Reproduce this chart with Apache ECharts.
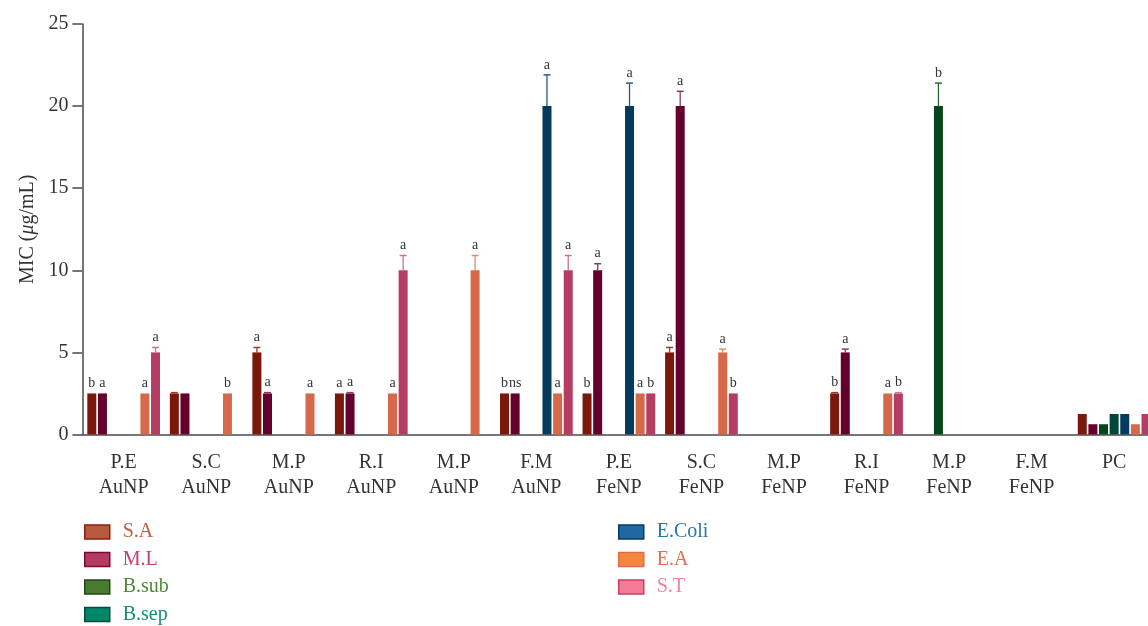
<!DOCTYPE html>
<html>
<head>
<meta charset="utf-8">
<script src="https://cdn.jsdelivr.net/npm/echarts@6/dist/echarts.min.js"></script>
<style>
  html, body { margin: 0; padding: 0; background: #ffffff; overflow: hidden; }
  /* the plot runs slightly past the right edge of the window */
  #chart { width: 1156px; height: 626px; }
</style>
</head>
<body>
<div id="chart"></div>
<script>
// Treatment groups along the x axis
const categories = [
  'P.E\nAuNP', 'S.C\nAuNP', 'M.P\nAuNP', 'R.I\nAuNP', 'M.P\nAuNP', 'F.M\nAuNP',
  'P.E\nFeNP', 'S.C\nFeNP', 'M.P\nFeNP', 'R.I\nFeNP', 'M.P\nFeNP', 'F.M\nFeNP', 'PC'
];
const yTicks = [0, 5, 10, 15, 20, 25];

// Strains (one bar series each)
const seriesNames = ['S.A', 'M.L', 'B.sub', 'B.sep', 'E.Coli', 'E.A', 'S.T'];

// MIC values (µg/mL) per strain, in category order
const saValues    = [2.5, 2.5, 5,   2.5, 0,  2.5, 2.5, 5,   0, 2.5, 0,  0, 1.25];
const mlValues    = [2.5, 2.5, 2.5, 2.5, 0,  2.5, 10,  20,  0, 5,   0,  0, 0.625];
const bsubValues  = [0,   0,   0,   0,   0,  0,   0,   0,   0, 0,   20, 0, 0.625];
const bsepValues  = [0,   0,   0,   0,   0,  0,   0,   0,   0, 0,   0,  0, 1.25];
const ecoliValues = [0,   0,   0,   0,   0,  20,  20,  0,   0, 0,   0,  0, 1.25];
const eaValues    = [2.5, 2.5, 2.5, 2.5, 10, 2.5, 2.5, 5,   0, 2.5, 0,  0, 0.625];
const stValues    = [5,   0,   0,   10,  0,  10,  2.5, 2.5, 0, 2.5, 0,  0, 1.25];

// Upper error (SD) per strain
const saErr    = [0,   0.05, 0.3,  0,    0,   0,   0,   0.3, 0, 0.05, 0,   0, 0];
const mlErr    = [0,   0,    0.05, 0.05, 0,   0,   0.4, 0.9, 0, 0.2,  0,   0, 0];
const bsubErr  = [0,   0,    0,    0,    0,   0,   0,   0,   0, 0,    1.4, 0, 0];
const bsepErr  = [0,   0,    0,    0,    0,   0,   0,   0,   0, 0,    0,   0, 0];
const ecoliErr = [0,   0,    0,    0,    0,   1.9, 1.4, 0,   0, 0,    0,   0, 0];
const eaErr    = [0,   0,    0,    0,    0.9, 0,   0,   0.2, 0, 0,    0,   0, 0];
const stErr    = [0.3, 0,    0,    0.9,  0,   0.9, 0,   0,   0, 0.05, 0,   0, 0];

// Significance letters per strain
const saSig    = ['b', '', 'a', 'a', '', 'b',  'b', 'a', '', 'b', '',  '', ''];
const mlSig    = ['a', '', 'a', 'a', '', 'ns', 'a', 'a', '', 'a', '',  '', ''];
const bsubSig  = ['',  '', '',  '',  '', '',   '',  '',  '', '',  'b', '', ''];
const bsepSig  = ['',  '', '',  '',  '', '',   '',  '',  '', '',  '',  '', ''];
const ecoliSig = ['',  '', '',  '',  '', 'a',  'a', '',  '', '',  '',  '', ''];
const eaSig    = ['a', 'b', 'a', 'a', 'a', 'a', 'a', 'a', '', 'a', '',  '', ''];
const stSig    = ['a', '', '',  'a', '', 'a',  'b', 'b', '', 'b', '',  '', ''];

const allValues = [saValues, mlValues, bsubValues, bsepValues, ecoliValues, eaValues, stValues];
const allErr = [saErr, mlErr, bsubErr, bsepErr, ecoliErr, eaErr, stErr];
const allSig = [saSig, mlSig, bsubSig, bsepSig, ecoliSig, eaSig, stSig];

// Bar fills, whisker tints, and legend swatch/text styles
const barColors = ['#7b180c', '#64002e', '#06461a', '#03473a', '#043b5c', '#d6694a', '#b53c63'];
const errColors = ['#9a3a2a', '#8a3a5a', '#2a6a3a', '#2a6a5a', '#2a5a7a', '#e08a70', '#d07090'];
const legendFill = ['#b85a3e', '#b43a60', '#4a7a30', '#00876a', '#1f68a0', '#f2883e', '#f27c98'];
const legendBorder = ['#8a1e10', '#7a0a30', '#1e4a1a', '#0a4a3a', '#0a3a60', '#e06a4a', '#c8405e'];
const legendText = ['#bf5e44', '#c2436c', '#4e8a34', '#1a8e74', '#2a74ac', '#e07050', '#f0849c'];

const FONT = '"Liberation Serif", "Times New Roman", serif';
const BAR_W = 9;
const BAR_GAP = 0.18;

const bars = seriesNames.map((name, i) => ({
  name: name,
  type: 'bar',
  data: allValues[i],
  barWidth: BAR_W,
  barGap: (BAR_GAP * 100) + '%',
  itemStyle: { color: barColors[i] },
  z: 2
}));

// Error whiskers and letters, one item per (category, strain)
const annot = [];
for (let s = 0; s < seriesNames.length; s++) {
  for (let c = 0; c < categories.length; c++) {
    if (allErr[s][c] > 0 || allSig[s][c]) {
      annot.push([c, s, allValues[s][c], allErr[s][c], allSig[s][c]]);
    }
  }
}

function renderAnnot(params, api) {
  const cat = api.value(0);
  const s = api.value(1);
  const v = api.value(2);
  const e = api.value(3);
  const sig = annot[params.dataIndex][4];
  const slot = BAR_W * (1 + BAR_GAP);
  const cx = api.coord([cat, 0])[0] + (s - 3) * slot;
  const yTop = api.coord([cat, v])[1];
  const yErr = api.coord([cat, v + e])[1];
  const children = [];
  if (e > 0) {
    children.push({
      type: 'line',
      shape: { x1: cx, y1: yTop, x2: cx, y2: yErr },
      style: { stroke: errColors[s], lineWidth: 1.3 }
    });
    children.push({
      type: 'line',
      shape: { x1: cx - 3.5, y1: yErr, x2: cx + 3.5, y2: yErr },
      style: { stroke: errColors[s], lineWidth: 1.5 }
    });
  }
  if (sig) {
    children.push({
      type: 'text',
      style: {
        text: sig,
        x: cx,
        y: Math.min(yTop, yErr) - 3,
        textAlign: 'center',
        textVerticalAlign: 'bottom',
        fontFamily: FONT,
        fontSize: 14,
        fill: '#333333'
      }
    });
  }
  return { type: 'group', children: children };
}

function legendItems(idx) {
  return idx.map(i => ({
    name: seriesNames[i],
    icon: 'rect',
    itemStyle: { color: legendFill[i], borderColor: legendBorder[i], borderWidth: 1.5 },
    textStyle: { color: legendText[i] }
  }));
}

const legendBase = {
  orient: 'vertical',
  top: 522,
  height: 140,
  padding: 0,
  itemWidth: 25,
  itemHeight: 14,
  itemGap: 7.5,
  selectedMode: false,
  textStyle: { fontFamily: FONT, fontSize: 20, padding: [0, 0, 0, 8] }
};

const chart = echarts.init(document.getElementById('chart'), null, { renderer: 'canvas' });
chart.setOption({
  animation: false,
  backgroundColor: '#ffffff',
  grid: { left: 82.4, top: 24, width: 1073, height: 410.5, containLabel: false },
  legend: [
    Object.assign({}, legendBase, { left: 84, data: legendItems([0, 1, 2, 3]) }),
    Object.assign({}, legendBase, { left: 618, data: legendItems([4, 5, 6]) })
  ],
  xAxis: {
    type: 'category',
    data: categories,
    axisLine: { lineStyle: { color: '#4a4a4a', width: 1.5 } },
    axisTick: { alignWithLabel: true, length: 12, lineStyle: { color: '#4a4a4a', width: 1.5 } },
    axisLabel: {
      interval: 0,
      margin: 16,
      color: '#333333',
      fontFamily: FONT,
      fontSize: 20,
      lineHeight: 25
    }
  },
  yAxis: {
    type: 'value',
    min: yTicks[0],
    max: yTicks[yTicks.length - 1],
    interval: 5,
    splitLine: { show: false },
    axisLine: { show: true, lineStyle: { color: '#4a4a4a', width: 1.5 } },
    axisTick: { show: true, length: 10, lineStyle: { color: '#4a4a4a', width: 1.5 } },
    axisLabel: { margin: 14, color: '#333333', fontFamily: FONT, fontSize: 20 },
    name: '{n|MIC (}{i|μ}{n|g/mL)}',
    nameLocation: 'middle',
    nameRotate: 90,
    nameGap: 45,
    nameTextStyle: {
      rich: {
        n: { fontFamily: FONT, fontSize: 20, color: '#333333' },
        i: { fontFamily: FONT, fontSize: 20, fontStyle: 'italic', color: '#333333' }
      }
    }
  },
  series: bars.concat([{
    name: 'annotations',
    type: 'custom',
    renderItem: renderAnnot,
    data: annot,
    encode: { x: 0, y: 2 },
    z: 3,
    silent: true
  }])
});
</script>
</body>
</html>
